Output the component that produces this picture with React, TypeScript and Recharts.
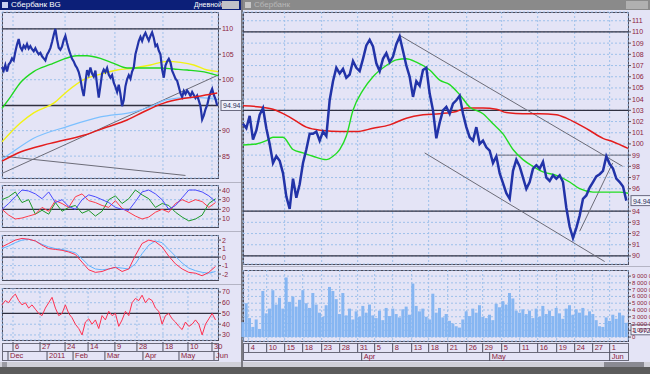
import React from 'react';
import { ComposedChart, Line, Bar, XAxis, YAxis, CartesianGrid, ReferenceLine } from 'recharts';

// ---- left window (daily) ----
const leftClose = [
  102.5, 101.8, 102.9, 101.6, 103.0, 103.4,
  104.2, 103.8, 105.5, 106.9, 108.0, 106.4,
  105.8, 106.7, 106.2, 107.0, 106.1, 106.6,
  106.0, 105.6, 106.2, 105.5, 105.0, 105.3,
  104.6, 104.2, 103.8, 104.9, 105.5, 106.2,
  107.4, 108.8, 110.0, 107.9, 106.3, 105.9,
  106.5, 107.8, 108.6, 107.2, 106.0, 105.0,
  104.1, 103.6, 102.8, 102.3, 101.5, 100.2,
  98.2, 96.8, 99.5, 101.9, 101.0, 102.4,
  101.2, 100.6, 101.8, 99.0, 96.5, 98.8,
  101.2, 102.0, 101.5, 102.3, 101.0, 100.4,
  100.9, 99.4, 98.6, 97.6, 99.0, 97.2,
  94.8, 96.0, 98.7, 100.1, 100.9, 100.2,
  101.6, 102.4, 105.0, 106.3, 107.6, 108.4,
  107.6, 108.6, 109.2, 108.4, 107.7, 108.6,
  109.3, 108.2, 106.6, 106.9, 105.7, 105.0,
  102.0, 100.4, 102.8, 103.6, 104.1, 103.4,
  101.8, 101.0, 100.2, 99.8, 98.6, 97.3,
  96.6, 97.8, 97.2, 97.9, 97.4, 96.8,
  97.6, 97.0, 96.4, 96.9, 95.9, 94.8,
  92.2, 93.0, 94.2, 95.0, 96.4, 97.4,
  98.2, 97.0, 96.2, 94.94,
];

const leftGreenMa = [[0, 94.4], [5, 96.6], [11, 99.4], [19, 101.6], [29, 103.0], [35, 103.8], [45, 104.7], [51, 104.7], [59, 104.2], [67, 103.2], [75, 102.3], [83, 102.3], [95, 102.3], [103, 102.1], [111, 101.9], [123, 101.4], [129.5, 100.8]];
const leftYellowMa = [[0, 87.8], [11, 91.5], [19, 93.5], [31, 95.4], [39, 97.7], [49, 100.0], [59, 101.1], [69, 101.9], [79, 102.3], [89, 102.9], [99, 103.6], [107, 103.4], [115, 102.9], [123, 101.9], [129.5, 101.6]];
const leftBlueMa = [[0, 84.4], [5, 85.5], [19, 88.5], [39, 90.8], [59, 92.7], [79, 93.7], [89, 94.7], [99, 96.1], [111, 96.5], [119, 96.5], [129.5, 96.1]];
const leftRedMa = [[0, 84.0], [11, 85.8], [29, 87.5], [49, 89.1], [63, 90.7], [75, 92.1], [85, 93.7], [97, 95.4], [107, 96.2], [117, 96.7], [129, 97.4]];
const leftTrendUp = [[0, 81.6], [129.5, 100.9]];
const leftTrendDown = [[0, 85.0], [110, 81.2]];

// indicators, one value every 4 days
const adxPlus = [20, 26, 33, 40, 39, 36, 31, 38, 27, 30, 23, 20, 30, 35, 33, 30, 27, 22, 20, 19, 28, 38, 40, 36, 30, 20, 24, 32, 40, 40, 38, 34, 28];
const adxMinus = [20, 14, 10, 11, 13, 15, 22, 18, 29, 26, 22, 33, 36, 29, 27, 24, 22, 29, 21, 17, 13, 10, 12, 17, 20, 17, 26, 30, 27, 30, 28, 22, 27];
const adxLine = [30, 33, 38, 27, 30, 15, 19, 15, 27, 18, 22, 24, 16, 19, 13, 18, 30, 34, 26, 31, 40, 35, 31, 22, 26, 24, 17, 12, 8, 10, 14, 26, 31];
const macdMain = [1.2, 1.6, 2.0, 2.2, 2.1, 1.9, 1.4, 1.0, 0.9, 0.8, 0.6, 0.3, -0.6, -1.5, -1.8, -1.7, -1.4, -1.2, -1.7, -1.4, 0.2, 1.6, 2.0, 1.8, 1.2, 0.1, -0.8, -1.4, -1.8, -1.9, -2.2, -1.8, -1.1];
const macdSignal = [1.0, 1.3, 1.7, 2.0, 2.1, 1.9, 1.5, 1.2, 1.0, 0.9, 0.7, 0.5, -0.2, -1.0, -1.4, -1.5, -1.4, -1.2, -1.3, -1.4, -0.8, 0.4, 1.4, 1.9, 1.7, 0.9, 0.1, -0.7, -1.3, -1.6, -1.8, -1.9, -1.7];
// RSI, one value every 2 days
const rsi = [58, 62, 60, 65, 68, 62, 58, 60, 55, 58, 54, 50, 48, 55, 60, 65, 55, 48, 50, 58, 50, 46, 40, 36, 30, 42, 45, 40, 44, 36, 48, 44, 52, 48, 50, 38, 44, 52, 48, 60, 64, 62, 67, 60, 64, 62, 55, 52, 40, 48, 50, 45, 42, 38, 35, 42, 38, 40, 44, 40, 30, 40, 45, 50, 44];

const leftDayTicks = [6.6, 22.8, 37.8, 51.6, 67.7, 80.9, 96.5, 111.5, 125.9];
const leftDayLabels = ['6', '27', '24', '14', '9', '28', '18', '10', '30'];
const leftMonthTicks = [3.6, 27, 42.6, 61.7, 84.5, 106.1, 127.1];
const leftMonthLabels = ['Dec', '2011', 'Feb', 'Mar', 'Apr', 'May', 'Jun'];

// ---- right window (hourly) ----
const rightClose = [
  101.8, 101.4, 102.5, 100.4, 101.2, 102.6, 103.2, 101.4, 100.0, 98.3,
  98.9, 98.5, 97.4, 95.3, 94.2, 96.9, 95.2, 96.4, 98.3, 99.5,
  100.9, 100.9, 101.1, 100.3, 101.1, 100.7, 103.9, 105.6, 106.8, 106.3,
  106.7, 105.9, 106.2, 107.4, 106.8, 106.5, 107.6, 108.8, 109.3, 108.7,
  107.2, 106.5, 107.6, 108.1, 107.3, 107.8, 108.9, 109.6, 108.3, 107.0,
  106.0, 104.2, 105.6, 105.2, 106.6, 106.8, 104.5, 103.0, 100.5, 101.9,
  103.0, 103.3, 102.7, 103.6, 103.9, 104.3, 102.7, 101.5, 100.6, 100.3,
  101.5, 100.0, 100.3, 99.7, 99.4, 98.3, 98.9, 97.4, 96.5, 95.6,
  95.1, 97.6, 98.6, 98.0, 97.0, 96.0, 96.6, 97.8, 98.1, 97.8,
  98.4, 97.0, 96.7, 97.2, 96.9, 97.2, 96.6, 94.3, 92.6, 91.6,
  92.5, 93.6, 95.1, 95.4, 96.1, 96.6, 97.1, 97.3, 97.6, 98.9,
  98.2, 97.8, 96.9, 96.6, 96.2, 94.94,
];
const rightVolume = [
  2200, 5000, 2800, 1500, 2600, 1200, 6800, 3500, 4200, 6900,
  4800, 5800, 4200, 8800, 5200, 6000, 4500, 5500, 6900, 5000,
  4300, 6500, 4800, 3600, 3000, 4700, 7400, 6800, 5600, 3400,
  6500, 3200, 4200, 2600, 3800, 3000, 4600, 3600, 4800, 3200,
  2800, 3900, 2500, 4300, 3100, 4200, 3400, 2900, 4100, 4500,
  3300, 7900, 4600, 3800, 4200, 3000, 2600, 6400, 3600, 4300,
  2900, 3400, 2400, 2000, 1600, 1400, 2600, 3800, 3100, 4200,
  3600, 4700, 3000, 2800, 3300, 2500, 4900, 4400, 5300, 4800,
  6500, 5700, 3900, 3600, 4100, 3400, 3900, 2800, 4200, 3000,
  4600, 3400, 3900, 3100, 4300, 3500, 2700, 4200, 4700, 3300,
  4100, 3600, 4300, 3200, 3800, 3400, 2500, 1600, 1500, 2900,
  2400, 3300, 2700, 3600, 3200, 2100,
];
const rightGreenMa = [[0, 99.9], [4, 100.0], [7, 100.3], [9, 100.6], [12, 100.6], [15, 99.5], [18, 99.2], [21, 98.9], [25, 98.6], [27, 98.9], [29, 99.5], [31, 100.7], [33, 103.0], [36, 104.8], [39, 106.0], [43, 107.0], [46, 107.5], [49, 107.6], [52, 107.3], [56, 106.6], [59, 105.7], [62, 105.3], [65, 104.4], [68, 103.3], [72, 102.7], [75, 101.8], [78, 100.9], [81, 99.5], [84, 98.6], [87, 98.0], [90, 97.5], [94, 97.2], [98, 96.6], [101, 96.0], [105, 95.7], [109, 95.7], [113, 95.7], [115.5, 95.6]];
const rightRedMa = [[0, 103.4], [5, 103.3], [9, 103.1], [14, 102.4], [19, 101.5], [24, 101.2], [29, 101.1], [34, 101.1], [39, 101.4], [44, 101.7], [49, 102.3], [54, 102.6], [59, 102.7], [64, 102.9], [67, 103.2], [72, 103.2], [76, 103.1], [79, 102.8], [84, 102.7], [89, 102.7], [94, 102.6], [97, 102.3], [101, 101.7], [104, 101.2], [108, 100.5], [111, 100.2], [115.5, 99.6]];
const rightChannelTop = [[47, 109.7], [113.9, 98.0]];
const rightChannelBottom = [[54.5, 99.2], [108.5, 89.5]];
const rightRise = [[101, 92.2], [110.9, 98.3]];
const rightShortLevel = [[76.4, 99], [115.5, 99]];

const rightDayTicks = [1.7, 7.1, 12.5, 17.9, 23.6, 29, 34.4, 39.5, 44.9, 50.6, 55.7, 61.4, 67.1, 71.9, 77.6, 83, 88.4, 94.1, 99.5, 104.9, 110];
const rightDayLabels = ['4', '10', '15', '18', '23', '28', '31', '5', '8', '13', '18', '21', '26', '29', '5', '11', '16', '19', '24', '27', '1'];
const rightMonthTicks = [35.6, 74, 110];
const rightMonthLabels = ['Apr', 'May', 'Jun'];
const volumeTicks = [0, 1000, 2000, 3000, 4000, 5000, 6000, 7000, 8000, 9000];

const FONT = "'Liberation Sans', Arial, sans-serif";
const BG = '#e4e4f6';
const GRID = '#9ec0ea';
const LABEL = '#8c1c3c';
const AX = { fill: LABEL, fontSize: 7, fontFamily: FONT };

const series = (vals: number[], step: number) => vals.map((v, i) => ({ x: i * step, v }));
const pairs = (arr: number[][]) => arr.map(([x, v]) => ({ x, v }));
const seg = (arr: number[][]) => arr.map(([x, y]) => ({ x, y }));

const LastTag = (props: any) => {
  const { viewBox, text } = props;
  if (!viewBox) return null;
  const x = viewBox.x + viewBox.width + 3;
  const y = viewBox.y;
  return (
    <g>
      <rect x={x} y={y - 5} width={text.length * 3.6 + 3} height={10} fill="#eef0fb" stroke="#6a6a80" />
      <text x={x + 2} y={y + 3} fontSize={7} fill="#30305a" fontFamily={FONT}>{text}</text>
    </g>
  );
};

const RowTick = (props: any) => {
  const { x, y, payload, ticks, labels, h } = props;
  const label = labels[ticks.indexOf(payload.value)];
  return (
    <g>
      <line x1={x} x2={x} y1={y + (h === 11 ? 2 : 0)} y2={y + h} stroke="#505060" />
      <text x={x + 2} y={y + h - 2} fontSize={7.5} fill={LABEL} fontFamily={FONT}>{label}</text>
    </g>
  );
};

// plain text so the spaced thousands are not wrapped onto several lines
const VolTick = (props: any) => {
  const { x, y, payload } = props;
  const v = payload.value;
  return (
    <text x={x} y={y + 2} fontSize={6} fill={LABEL} fontFamily={FONT}>
      {v === 0 ? '0' : `${v / 1000} 000 000`}
    </text>
  );
};

const Box = ({ l, t, w, h, c = '#4a4a5a' }: any) => (
  <div style={{ position: 'absolute', left: l, top: t, width: w, height: h, border: `1px solid ${c}`, boxSizing: 'border-box' }} />
);
const Abs = ({ l, t, children }: any) => (
  <div style={{ position: 'absolute', left: l, top: t }}>{children}</div>
);

const yProps = (w: number) => ({
  orientation: 'right' as const,
  width: w,
  tick: AX,
  tickSize: 3,
  tickMargin: 1,
  axisLine: false,
  tickLine: { stroke: '#505060' },
  interval: 0 as const,
});

function IndicatorPanel({ top, height, domain, ticks, level, lines }: any) {
  return (
    <Abs l={0} t={top}>
      <ComposedChart width={241} height={height} data={lines[0].data} margin={{ top: 0, right: 0, bottom: 0, left: 2 }}>
        <CartesianGrid stroke={GRID} strokeDasharray="2 2" />
        <XAxis type="number" dataKey="x" domain={[0, 129.5]} ticks={leftDayTicks} hide />
        <YAxis {...yProps(23)} domain={domain} ticks={ticks} />
        <ReferenceLine y={level} stroke="#303040" strokeWidth={1.2} />
        {lines.map((l: any, i: number) => (
          <Line key={i} data={l.data} dataKey="v" stroke={l.color} strokeWidth={1} dot={false} isAnimationActive={false} />
        ))}
      </ComposedChart>
    </Abs>
  );
}

export default function App() {
  const volData = rightVolume.map((v, i) => ({ x: i, v }));
  const rsiData = series(rsi, 2);
  return (
    <div style={{ position: 'absolute', left: 0, top: 0, width: 650, height: 374, overflow: 'hidden', background: BG, fontFamily: FONT }}>
      {/* window chrome */}
      <div style={{ position: 'absolute', left: 0, top: 0, width: 241, height: 10, background: '#0c1f78' }} />
      <div style={{ position: 'absolute', left: 2, top: 2, width: 6, height: 6, background: '#c8d0f0' }} />
      <div style={{ position: 'absolute', left: 11, top: 0, fontSize: 8, lineHeight: '10px', color: '#fff' }}>Сбербанк BG</div>
      <div style={{ position: 'absolute', left: 194, top: 0, fontSize: 7, lineHeight: '10px', color: '#fff' }}>Дневной</div>
      <div style={{ position: 'absolute', left: 222, top: 1, width: 17, height: 8, background: '#c0c0c8' }} />
      <div style={{ position: 'absolute', left: 243, top: 0, width: 407, height: 10, background: '#8a8a8a' }} />
      <div style={{ position: 'absolute', left: 245, top: 2, width: 6, height: 6, background: '#c8c8c8' }} />
      <div style={{ position: 'absolute', left: 254, top: 0, fontSize: 8, lineHeight: '10px', color: '#b8b8b8' }}>Сбербанк</div>
      <div style={{ position: 'absolute', left: 626, top: 1, width: 22, height: 8, background: '#b0b0b0' }} />
      <div style={{ position: 'absolute', left: 241, top: 0, width: 2, height: 374, background: '#7a7a82' }} />
      {[182, 231, 284].map((t) => (
        <div key={t} style={{ position: 'absolute', left: 0, top: t, width: 241, height: 1, background: '#b4b4c4' }} />
      ))}
      <div style={{ position: 'absolute', left: 243, top: 266, width: 407, height: 1, background: '#b4b4c4' }} />

      {/* panel frames */}
      <Box l={2} t={12} w={217} h={167} />
      <Box l={2} t={185} w={217} h={43} />
      <Box l={2} t={235} w={217} h={46} />
      <Box l={2} t={288} w={217} h={53} />
      <Box l={2} t={343} w={217} h={9} c="#6a6a7a" />
      <Box l={2} t={351} w={217} h={10} c="#6a6a7a" />
      <Box l={243} t={12} w={386} h={253} />
      <Box l={243} t={270} w={386} h={72} />
      <Box l={243} t={343} w={386} h={10} c="#6a6a7a" />
      <Box l={243} t={352} w={386} h={9} c="#6a6a7a" />

      {/* scroll bars + bottom */}
      <div style={{ position: 'absolute', left: 0, top: 362, width: 241, height: 5, background: '#d0d0d8' }} />
      <div style={{ position: 'absolute', left: 2, top: 362, width: 5, height: 5, background: '#9a9aa2' }} />
      <div style={{ position: 'absolute', left: 243, top: 362, width: 407, height: 5, background: '#d0d0d8' }} />
      <div style={{ position: 'absolute', left: 604, top: 362, width: 40, height: 5, background: '#8a8a92' }} />
      <div style={{ position: 'absolute', left: 0, top: 367, width: 650, height: 7, background: '#5c5c5c' }} />

      {/* left price */}
      <Abs l={0} t={11}>
        <ComposedChart width={241} height={168} data={series(leftClose, 1)} margin={{ top: 1, right: 0, bottom: 1, left: 2 }}>
          <CartesianGrid stroke={GRID} strokeDasharray="2 2" />
          <XAxis type="number" dataKey="x" domain={[0, 129.5]} ticks={leftDayTicks} hide />
          <YAxis {...yProps(23)} domain={[80.7, 113.3]} ticks={[85, 90, 100, 105, 110]} />
          <ReferenceLine y={110} stroke="#303040" strokeWidth={1.3} />
          <ReferenceLine y={94.94} stroke="#303040" strokeWidth={1.3} label={<LastTag text="94.94" />} />
          <ReferenceLine segment={seg(leftTrendUp)} stroke="#6c6c78" />
          <ReferenceLine segment={seg(leftTrendDown)} stroke="#6c6c78" />
          <Line data={pairs(leftBlueMa)} dataKey="v" type="monotone" stroke="#7cc0ff" strokeWidth={1.2} dot={false} isAnimationActive={false} />
          <Line data={pairs(leftYellowMa)} dataKey="v" type="monotone" stroke="#f2f214" strokeWidth={1.4} dot={false} isAnimationActive={false} />
          <Line data={pairs(leftGreenMa)} dataKey="v" type="monotone" stroke="#20d820" strokeWidth={1.4} dot={false} isAnimationActive={false} />
          <Line dataKey="v" stroke="#2233a8" strokeWidth={2.2} dot={false} isAnimationActive={false} />
          <Line data={pairs(leftRedMa)} dataKey="v" type="monotone" stroke="#e41c1c" strokeWidth={1.5} dot={false} isAnimationActive={false} />
        </ComposedChart>
      </Abs>

      <IndicatorPanel top={185} height={42} domain={[1.7, 45.2]} ticks={[10, 20, 30, 40]} level={20}
        lines={[
          { data: series(adxLine, 4), color: '#1e9a2a' },
          { data: series(adxMinus, 4), color: '#ff3a4a' },
          { data: series(adxPlus, 4), color: '#4a4aff' },
        ]} />
      <IndicatorPanel top={235} height={45} domain={[-2.7, 2.6]} ticks={[-2, -1, 0, 1, 2]} level={0}
        lines={[
          { data: series(macdSignal, 4), color: '#62b4ff' },
          { data: series(macdMain, 4), color: '#ff3050' },
        ]} />

      {/* RSI + left date axis */}
      <Abs l={0} t={288}>
        <ComposedChart width={241} height={72} data={rsiData} margin={{ top: 0, right: 0, bottom: 0, left: 2 }}>
          <CartesianGrid stroke={GRID} strokeDasharray="2 2" />
          <XAxis type="number" dataKey="x" domain={[0, 129.5]} ticks={leftDayTicks} interval={0} height={11}
            axisLine={false} tickLine={false} tickSize={0} tickMargin={0}
            tick={(p: any) => <RowTick {...p} ticks={leftDayTicks} labels={leftDayLabels} h={11} />} />
          <XAxis xAxisId="m" type="number" dataKey="x" domain={[0, 129.5]} ticks={leftMonthTicks} interval={0} height={9}
            axisLine={false} tickLine={false} tickSize={0} tickMargin={0}
            tick={(p: any) => <RowTick {...p} ticks={leftMonthTicks} labels={leftMonthLabels} h={9} />} />
          <YAxis {...yProps(23)} domain={[25.3, 73.7]} ticks={[30, 40, 50, 60, 70]} />
          <ReferenceLine y={50} stroke="#303040" strokeWidth={1.2} />
          <Line dataKey="v" stroke="#ff3050" strokeWidth={1} dot={false} isAnimationActive={false} />
        </ComposedChart>
      </Abs>

      {/* right price */}
      <Abs l={240} t={11}>
        <ComposedChart width={410} height={254} data={series(rightClose, 1)} margin={{ top: 1, right: 0, bottom: 1, left: 3 }}>
          <CartesianGrid stroke={GRID} strokeDasharray="2 2" />
          <XAxis type="number" dataKey="x" domain={[0, 115.5]} ticks={rightDayTicks} hide />
          <YAxis {...yProps(22)} domain={[89.28, 111.78]}
            ticks={[90, 91, 92, 93, 94, 96, 97, 98, 99, 100, 101, 102, 103, 104, 105, 106, 107, 108, 109, 110, 111]} />
          <ReferenceLine y={110} stroke="#303040" strokeWidth={1.3} />
          <ReferenceLine y={103} stroke="#303040" strokeWidth={1.3} />
          <ReferenceLine y={94} stroke="#303040" strokeWidth={1.3} />
          <ReferenceLine y={90} stroke="#303040" strokeWidth={1.3} />
          <ReferenceLine segment={seg(rightShortLevel)} stroke="#6c6c78" />
          <ReferenceLine segment={seg(rightChannelTop)} stroke="#6c6c78" />
          <ReferenceLine segment={seg(rightChannelBottom)} stroke="#6c6c78" />
          <ReferenceLine segment={seg(rightRise)} stroke="#6c6c78" />
          <ReferenceLine y={94.94} stroke="none" label={<LastTag text="94.94" />} />
          <Line data={pairs(rightRedMa)} dataKey="v" type="monotone" stroke="#e41c1c" strokeWidth={1.5} dot={false} isAnimationActive={false} />
          <Line data={pairs(rightGreenMa)} dataKey="v" type="monotone" stroke="#22dd22" strokeWidth={1.4} dot={false} isAnimationActive={false} />
          <Line dataKey="v" stroke="#2233a8" strokeWidth={2.5} dot={false} isAnimationActive={false} />
        </ComposedChart>
      </Abs>

      {/* volume + right date axis */}
      <Abs l={240} t={270}>
        <ComposedChart width={410} height={91} data={volData} margin={{ top: 0, right: 0, bottom: 0, left: 3 }}>
          <CartesianGrid stroke={GRID} strokeDasharray="2 2" />
          <XAxis type="number" dataKey="x" domain={[0, 115.5]} ticks={rightDayTicks} interval={0} height={11}
            axisLine={false} tickLine={false} tickSize={0} tickMargin={0}
            tick={(p: any) => <RowTick {...p} ticks={rightDayTicks} labels={rightDayLabels} h={11} />} />
          <XAxis xAxisId="m" type="number" dataKey="x" domain={[0, 115.5]} ticks={rightMonthTicks} interval={0} height={9}
            axisLine={false} tickLine={false} tickSize={0} tickMargin={0}
            tick={(p: any) => <RowTick {...p} ticks={rightMonthTicks} labels={rightMonthLabels} h={9} />} />
          <YAxis {...yProps(22)} domain={[-580, 9900]} ticks={volumeTicks} tick={<VolTick />} />
          <ReferenceLine y={1072.4} stroke="none" label={<LastTag text="1 072 400" />} />
          <Bar dataKey="v" fill="#86b6f2" barSize={3} isAnimationActive={false} />
        </ComposedChart>
      </Abs>
    </div>
  );
}
